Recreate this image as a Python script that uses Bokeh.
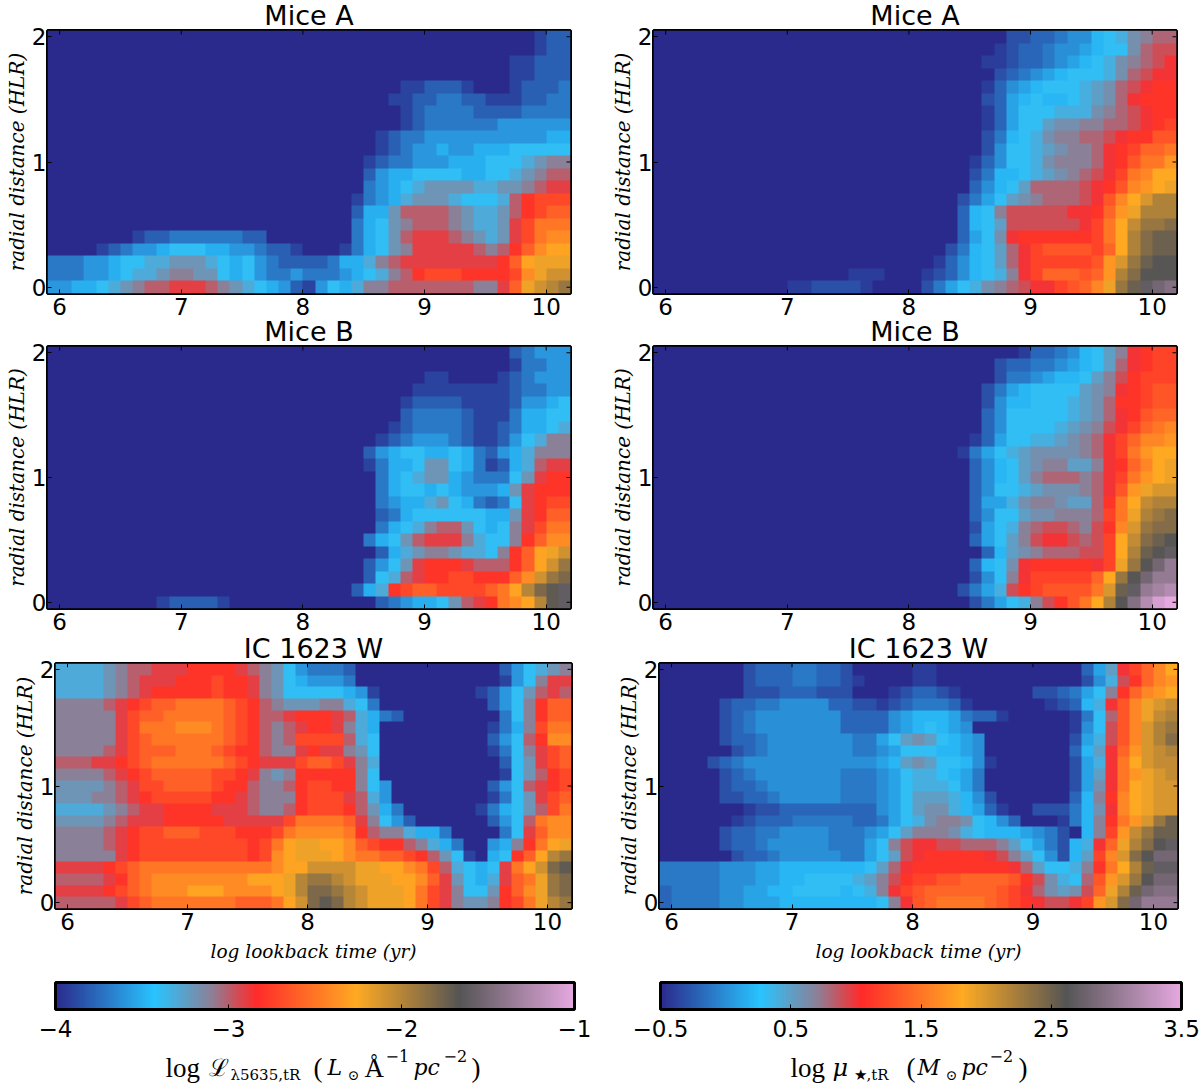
from bokeh.embed import file_html
from bokeh.resources import INLINE
from bokeh.plotting import figure
from bokeh.layouts import column, row
from bokeh.models import (Range1d, FixedTicker, LinearColorMapper, ColorBar, Label)
import numpy as np

AGE_TICKS = [6, 7, 8, 9, 10]
RADIUS_TICKS = [0, 1, 2]
LUM_TICKS = [-4, -3, -2, -1]
MASS_TICKS = [-0.5, 0.5, 1.5, 2.5, 3.5]
TITLES = ["Mice A", "Mice A", "Mice B", "Mice B", "IC 1623 W", "IC 1623 W"]
# cell values: tenths of a dex above the bottom of the colour scale; columns 0.1 dex in log age from 5.9; rows top (2.0 HLR) to bottom (0)
MICE_A_LUM = [
 [0]*40+[1,2,2],
 [0]*40+[1,2,2],
 [0]*38+[1,1,2,2,2],
 [0]*38+[1,1,2,2,2],
 [0]*29+[1,1,2,2,2,1]+[0,0,0]+[1,2,2,2,3],
 [0]*28+[1,1,2,2,3,3,2,2,1,1,1,2,2,3,3],
 [0]*29+[1,2,3,3,3,3,2,2,2,2,3,3,3,3],
 [0]*29+[1,2,3,3,3,3,3,3,4,4,4,4,4,4],
 [0]*27+[1,2,3,3,4,4,4,4,4,4,4,4,4,4,5,5],
 [0]*27+[1,2,3,4,4,5,4,4,5,5,5,6,6,6,6,6],
 [0]*26+[1,2,3,3,4,4,4,5,5,5,6,6,6,7,8,9,9],
 [0]*26+[2,4,5,5,6,6,6,6,5,5,6,6,7,8,9,10,10],
 [0]*26+[3,4,5,6,7,8,8,8,8,7,7,8,8,9,10,11,11],
 [0]*25+[1,3,4,5,7,8,8,8,7,6,6,6,7,10,12,13,13,13],
 [0]*25+[2,5,5,8,10,10,10,10,9,8,7,7,8,10,12,13,14,14],
 [0]*25+[3,5,6,8,9,10,10,10,9,8,7,7,8,11,13,15,15,15],
 [0]*7+[1,2,2,3,3,3,3,3,3,2,2]+[0]*7+[3,5,6,8,10,11,11,11,10,9,8,7,8,11,13,15,16,16],
 [0]*4+[1,2,3,4,4,5,6,6,6,5,5,4,4,3,2,2,1]+[0]*3+[1]+[3,5,6,8,9,11,11,11,11,11,10,9,10,12,14,16,17,17],
 [3,3,3,4,4,5,6,6,7,7,8,8,8,7,6,5,6,4,3,2,2,2,2,3,5,5,7,9,10,11,11,11,11,11,11,11,11,12,14,17,18,18,18],
 [3,3,3,4,4,5,6,7,7,8,9,9,8,8,6,5,6,4,3,3,4,3,3,3,4,5,6,7,9,10,12,13,13,13,12,12,12,12,13,16,18,19,19],
 [4,4,5,5,6,7,8,9,10,10,11,11,11,10,9,8,7,6,5,4,2,1,4,6,5,7,9,9,10,10,10,10,10,10,10,9,9,11,14,18,19,20,21],
]
MICE_A_MASS = [
 [0]*29+[2,2,3,3,4,5,5,7,8,9,11,12,13,13],
 [0]*28+[1,2,3,3,4,5,5,6,7,8,8,11,13,14,14],
 [0]*27+[1,1,2,3,3,4,5,6,7,8,9,11,12,13,14,15],
 [0]*28+[2,3,4,5,6,7,8,8,8,9,11,13,14,15,15],
 [0]*27+[1,3,5,6,7,8,8,8,9,10,11,13,14,15,16,16],
 [0]*27+[2,3,6,7,8,7,7,8,9,10,11,13,15,16,16,16],
 [0]*27+[1,3,6,8,8,8,9,9,9,11,12,13,14,15,16,16],
 [0]*27+[1,3,6,8,8,10,11,11,12,12,13,13,14,15,16,17],
 [0]*27+[2,4,7,8,9,11,12,12,13,13,14,15,16,16,18,18],
 [0]*27+[2,5,8,8,9,10,11,12,12,13,15,16,17,19,19,20],
 [0]*26+[1,3,5,8,8,9,11,12,12,12,13,15,16,18,20,20,22],
 [0]*26+[2,4,7,7,8,9,10,11,12,13,14,15,17,20,21,23,23],
 [0]*26+[3,5,7,8,10,13,13,13,13,14,15,16,18,21,22,23,24],
 [0]*25+[2,4,6,8,10,11,12,13,13,13,14,15,18,21,23,25,27,27],
 [0]*25+[3,7,8,12,14,14,14,14,14,15,15,16,19,22,24,27,27,27],
 [0]*25+[3,7,8,10,14,14,14,14,14,14,15,17,20,23,26,28,28,29],
 [0]*25+[3,6,8,11,15,16,16,16,16,16,16,17,20,23,27,29,30,30],
 [0]*24+[2,4,7,8,10,13,15,17,18,18,18,18,17,19,23,27,29,30,30],
 [0]*23+[1,3,5,7,8,10,13,15,17,17,17,17,17,18,22,25,28,30,31,31],
 [0]*16+[1,1,1]+[0]*3+[1,2,3,5,7,8,9,12,15,17,19,19,19,18,19,22,27,29,31,31,31],
 [0]*11+[1,1,2,2,2,2,1]+[0]*4+[2,4,6,8,9,11,12,13,14,15,15,17,18,19,21,24,28,30,32,33,34],
]
MICE_B_LUM = [
 [0]*38+[2,3,4,4,4],
 [0]*38+[1,3,3,4,4],
 [0]*31+[1,1]+[0]*4+[1,2,3,4,4,4],
 [0]*30+[1,1,1,1,1,1,1,1,2,3,3,4,4],
 [0]*29+[1,2,2,2,2,1,1,1,1,2,4,4,5,6],
 [0]*29+[2,3,3,3,3,2,1,1,1,3,5,5,6,6],
 [0]*28+[1,2,3,3,3,3,2,1,1,2,3,5,5,6,7],
 [0]*27+[1,2,3,4,4,4,3,2,1,1,2,4,6,7,9,9],
 [0]*26+[2,4,5,6,6,5,5,6,5,3,2,4,5,7,9,9,9],
 [0]*26+[1,3,5,5,6,8,8,6,5,3,1,2,5,7,10,11,11],
 [0]*27+[3,5,6,7,8,8,5,4,3,3,3,6,8,11,12,12],
 [0]*27+[3,5,6,6,5,6,5,4,4,4,5,8,11,12,12,12],
 [0]*27+[3,4,5,5,7,8,6,5,3,2,3,6,11,12,13,13],
 [0]*27+[2,3,5,6,6,6,6,6,6,5,5,8,11,12,14,14],
 [0]*27+[3,5,6,7,9,10,10,8,6,5,6,9,11,13,15,15],
 [0]*26+[3,5,6,8,10,11,11,11,9,7,6,6,9,12,14,16,16],
 [0]*27+[2,5,7,8,9,9,8,7,7,6,9,12,14,17,18,19],
 [0]*26+[2,4,6,8,11,12,12,12,11,10,10,10,12,14,17,19,21],
 [0]*26+[2,6,7,10,11,12,12,13,13,12,12,12,14,16,19,21,22],
 [0]*25+[2,5,7,12,13,14,14,13,13,13,13,14,15,17,20,22,23,24],
 [0]*9+[1,2,2,2,2,1]+[0]*12+[2,3,4,5,5,6,8,10,11,12,15,16,17,20,23,24],
]
MICE_B_MASS = [
 [0]*30+[1,3,3,4,5,7,8,10,12,15,16,17,17],
 [0]*28+[2,3,3,4,4,5,6,7,8,10,13,15,16,17,17],
 [0]*28+[2,4,4,5,6,7,7,8,10,12,14,16,17,17,17],
 [0]*27+[2,4,6,7,8,8,8,8,10,11,12,15,16,17,18,18],
 [0]*27+[2,5,7,7,8,8,8,9,10,11,13,16,16,17,18,18],
 [0]*27+[3,5,8,8,8,8,8,9,10,11,13,15,16,18,19,19],
 [0]*27+[3,5,8,8,8,8,9,10,11,12,14,15,17,19,20,21],
 [0]*26+[1,3,6,8,8,9,9,10,11,12,13,15,17,19,21,21,22],
 [0]*25+[1,4,6,8,9,10,11,11,11,11,12,13,15,17,20,22,23,23],
 [0]*26+[3,5,7,8,10,11,12,12,10,10,12,15,16,19,21,23,24],
 [0]*26+[3,5,7,8,10,12,13,13,13,12,13,15,17,20,22,23,24],
 [0]*26+[3,5,8,8,9,10,11,11,11,12,13,15,18,22,24,25,25],
 [0]*26+[3,6,6,9,11,12,12,11,10,10,13,16,20,23,26,27,27],
 [0]*26+[3,5,8,8,10,11,11,12,12,12,13,17,20,24,27,28,29],
 [0]*26+[2,6,8,9,12,13,14,14,13,12,14,16,21,25,28,29,29],
 [0]*26+[3,6,8,10,12,14,15,15,14,13,14,17,23,26,29,30,31],
 [0]*27+[3,7,10,11,12,13,13,13,14,14,17,23,27,30,31,32],
 [0]*26+[3,7,8,11,15,16,16,16,16,16,15,17,24,28,31,33,35],
 [0]*26+[2,5,8,12,15,17,17,17,17,17,19,23,28,31,33,35,35],
 [0]*25+[2,4,6,9,14,16,17,18,18,18,18,20,25,30,32,35,36,37],
 [0]*26+[2,4,6,8,9,12,14,16,18,20,23,27,31,34,37,39,40],
]
IC1623_LUM = [
 [7,7,7,7,8,9,10,10,11,11,11,12,12,12,12,11,10,9,8,6,4,3,3,3,2]+[0]*12+[2,4,6,7,8,9],
 [7,7,7,7,8,9,10,11,11,11,12,12,12,13,12,12,11,9,8,6,5,4,4,4,3]+[0]*12+[1,4,6,9,11,11],
 [7,7,7,7,8,9,10,11,12,12,12,12,12,13,12,12,11,9,8,6,6,6,6,6,5,4,1]+[0]*8+[1,2,4,6,8,10,11,10],
 [9,9,9,9,10,11,12,13,14,14,15,15,15,15,14,13,12,10,9,8,8,8,9,9,7,6,3]+[0]*9+[2,4,6,9,12,14,14],
 [9,9,9,9,9,11,13,14,14,15,15,15,15,15,14,13,12,10,10,11,12,12,12,11,10,7,5,3,2]+[0]*8+[3,6,9,12,14,14],
 [9,9,9,9,9,11,13,15,15,15,16,16,16,15,14,13,12,10,9,10,11,12,12,11,9,7,5]+[0]*9+[1,3,5,9,13,15,15],
 [9,9,9,9,9,11,13,14,15,15,15,15,15,15,14,13,12,10,9,10,13,13,13,13,10,7,6]+[0]*9+[2,4,6,10,12,16,16],
 [9,9,9,9,10,11,13,14,14,14,15,15,15,14,13,12,12,10,9,9,11,12,11,11,9,8,6]+[0]*9+[1,3,6,9,11,13,14],
 [10,10,10,11,11,12,13,14,15,15,15,15,15,15,14,13,12,11,11,11,13,14,14,13,11,9,7]+[0]*10+[2,6,8,11,13,14],
 [9,9,9,9,10,11,12,13,14,14,14,14,14,13,13,12,11,9,8,9,12,12,12,12,12,9,6]+[0]*10+[1,6,8,10,12,13],
 [8,8,8,8,9,10,11,13,13,14,14,14,14,13,12,12,10,9,9,10,12,13,13,12,12,9,6,4]+[0]*8+[2,4,6,10,11,12,13],
 [8,8,8,9,9,10,11,12,13,13,13,13,13,12,12,11,10,9,9,9,12,13,13,13,11,10,7,4]+[0]*8+[1,3,6,8,11,13,14],
 [7,7,7,7,8,9,10,11,11,12,12,12,12,11,11,11,10,9,9,10,12,13,13,13,12,10,8,5,3]+[0]*6+[1,3,5,6,8,10,13,15],
 [8,8,8,8,9,10,11,11,11,12,12,12,12,12,11,11,11,11,11,13,15,15,15,15,14,11,9,6,4,2]+[0]*6+[2,4,6,10,15,16,16],
 [9,9,9,9,10,11,12,13,13,14,14,14,13,13,13,12,12,12,13,15,16,16,16,16,15,12,10,9,9,7,5,5,3]+[0]*4+[3,6,11,14,16,16],
 [9,9,9,9,10,11,12,13,13,13,13,13,13,13,13,13,12,13,15,17,18,18,17,17,16,14,13,12,12,10,9,7,5,3,0,0,4,5,9,12,15,17,18],
 [9,9,9,9,9,11,12,13,13,13,13,13,13,13,13,13,12,13,16,17,18,18,18,17,16,15,15,14,14,13,12,10,8,6,1,0,5,6,12,14,17,20,21],
 [11,11,11,11,12,13,14,15,15,15,15,15,15,15,15,15,15,15,16,17,17,19,19,19,19,18,18,17,17,16,15,13,10,7,6,5,6,11,15,17,19,22,23],
 [10,10,10,10,11,12,14,15,16,16,16,16,16,16,16,16,17,17,17,18,20,21,21,20,19,18,18,18,17,17,16,14,11,8,6,5,7,11,14,15,18,21,22],
 [11,11,11,11,12,13,14,15,16,16,16,17,17,17,16,16,16,16,17,18,20,22,22,21,20,19,18,18,18,17,15,13,11,9,6,6,8,12,14,16,18,21,22],
 [10,10,10,10,10,11,13,14,15,15,15,15,15,15,15,14,14,14,15,17,19,22,23,22,20,19,18,18,18,17,15,13,11,9,8,8,9,12,13,15,18,20,21],
]
IC1623_MASS = [
 [0]*7+[2,3,3,3,4,4,3,3,2]+[0]*5+[1,1]+[0]*12+[3,6,10,15,17,19,21,23],
 [0]*7+[2,3,3,3,4,4,3,3,2,1]+[0]*4+[1,1]+[0]*12+[2,5,9,14,16,19,21,22],
 [0]*7+[2,2,2,3,3,3,2,2,2]+[0]*3+[1,2,3,3,2,1]+[0]*6+[2,2,3,4,6,8,12,16,19,21,22,23],
 [0]*5+[2,3,3,4,4,5,5,5,5,3,3,2,2,1,2,3,4,4,4,3,1]+[0]*6+[1,2,3,7,9,15,18,21,24,25,26],
 [0]*5+[2,3,4,5,5,5,5,5,5,5,3,3,3,3,5,6,7,7,7,6,4,3,3,1]+[0]*5+[1,4,8,13,18,21,24,26,27],
 [0]*5+[2,3,4,5,5,5,5,5,5,5,3,3,3,3,5,6,7,8,7,6,5]+[0]*8+[1,5,8,14,18,21,25,27,28],
 [0]*5+[2,3,3,4,5,5,5,5,5,5,5,4,4,6,8,10,11,10,8,7,6,5]+[0]*7+[2,6,9,14,18,21,25,27,29],
 [0]*6+[2,3,4,5,5,5,5,5,5,5,4,4,5,6,8,8,8,7,7,6,5]+[0]*7+[3,7,10,15,19,22,25,26,27],
 [0]*4+[2,3,4,5,5,5,5,5,5,5,5,5,5,5,6,7,10,11,10,8,8,7,5,1]+[0]*6+[2,6,9,15,20,23,25,26,26],
 [0]*5+[2,3,4,5,5,5,5,5,5,5,4,4,4,5,6,8,9,9,8,7,6,4]+[0]*7+[2,6,10,15,20,22,24,25,26],
 [0]*5+[2,3,3,4,5,5,5,5,5,5,4,4,4,5,6,8,9,9,9,8,6,4]+[0]*7+[2,6,11,15,20,23,24,25,25],
 [0]*5+[2,2,3,3,4,5,5,5,5,5,4,4,4,5,6,8,10,10,10,9,7,5,2]+[0]*6+[3,7,12,16,21,23,24,25,25],
 [0]*7+[1,2,2,3,3,3,3,3,3,3,3,5,6,8,10,11,11,9,7,6,3,1]+[0]*2+[2,2,2,4,7,11,15,21,23,24,25,25],
 [0]*6+[1,2,3,3,3,4,4,4,4,4,3,3,4,6,8,9,11,12,12,11,8,7,5,3]+[0,0,0,1]+[4,7,12,16,20,22,25,28,30],
 [0]*5+[2,3,3,4,4,5,5,5,5,4,4,4,5,6,8,10,12,12,12,11,9,8,7,7,7,6,5,4,2,0]+[7,12,17,22,26,28,30,30],
 [0]*5+[2,3,3,4,5,5,5,5,5,4,4,4,6,8,12,14,15,15,14,14,13,13,13,12,10,8,6,4,2,7,9,15,19,24,27,29,31,32],
 [0]*6+[2,3,3,4,5,5,5,5,5,4,4,6,8,10,14,15,16,16,16,16,16,15,14,12,10,8,5,2,7,10,17,21,25,29,31,33,33],
 [4,4,4,4,4,5,5,5,6,6,7,7,7,7,7,7,7,8,10,13,15,16,16,16,16,16,16,16,16,15,13,10,8,8,9,12,16,20,23,27,30,32,32],
 [4,4,4,4,4,5,5,5,6,6,7,7,8,8,8,8,9,10,12,14,16,17,17,18,18,19,19,19,19,18,16,14,11,9,8,13,18,22,25,28,31,33,33],
 [3,4,4,4,4,5,5,6,6,7,7,8,8,8,8,7,8,9,12,15,17,18,19,19,19,19,19,19,18,17,15,13,11,10,11,14,19,24,27,30,33,34,34],
 [3,4,4,4,4,5,5,6,6,6,7,7,7,7,7,7,7,7,8,12,15,18,19,20,20,20,20,19,18,17,16,15,14,14,15,17,22,25,29,33,35,35,35],
]

# colormap anchors
stops = [0, .19, .30, .385, .58, .78, 1]
cols = [(42,42,140),(40,196,255),(140,128,150),(255,42,42),(255,170,34),(85,85,85),(229,168,224)]
t = np.linspace(0, 1, 256)
PALETTE = ["#%02x%02x%02x" % tuple(int(round(np.interp(v, stops, [c[i] for c in cols]))) for i in range(3)) for v in t]

SERIF = "DejaVu Serif"

def fit(r):
    r = list(r)[:43]
    return r + [r[-1]] * (43 - len(r))

def panel(title, rows, vmin, left, width, height, bottom, mt, xlabel=None):
    m = np.array([fit(r) for r in rows], dtype=float)[::-1] * 0.1 + vmin
    mapper = LinearColorMapper(palette=PALETTE, low=vmin, high=vmin + (3 if vmin == -4 else 4))
    p = figure(frame_width=width, frame_height=height, min_border_left=left,
               min_border_right=600 - left - width, min_border_top=38, min_border_bottom=bottom,
               x_range=Range1d(5.9, 10.2), y_range=Range1d(-0.05, 2.05),
               output_backend="svg", toolbar_location=None, tools="",
               margin=(mt, 0, 0, 0), border_fill_color=None, background_fill_color=None)
    p.image(image=[m], x=5.9, y=-0.05, dw=4.3, dh=2.1, color_mapper=mapper)
    # mirrored inward ticks on the top and right edges
    p.segment(x0=AGE_TICKS, y0=[2.05]*5, x1=AGE_TICKS, y1=[2.018]*5, line_color="black", line_width=1)
    p.segment(x0=[10.2]*3, y0=RADIUS_TICKS, x1=[10.167]*3, y1=RADIUS_TICKS, line_color="black", line_width=1)
    p.grid.visible = False
    p.outline_line_color = "black"
    p.outline_line_width = 3
    p.title.text = title
    p.title.align = "center"
    p.title.text_font = "DejaVu Sans"
    p.title.text_font_style = "normal"
    p.title.text_font_size = "27px"
    p.title.text_color = "black"
    p.title.standoff = 0
    for ax, tk in ((p.xaxis[0], AGE_TICKS), (p.yaxis[0], RADIUS_TICKS)):
        ax.ticker = FixedTicker(ticks=tk)
        ax.axis_line_color = None
        ax.major_tick_in = 4
        ax.major_tick_out = 0
        ax.minor_tick_in = 0
        ax.minor_tick_out = 0
        ax.major_tick_line_color = "black"
        ax.major_label_text_font = "DejaVu Sans"
        ax.major_label_text_font_size = "23px"
        ax.major_label_text_color = "black"
    p.xaxis[0].major_label_standoff = 4
    p.yaxis[0].major_label_standoff = 1
    p.yaxis[0].major_label_orientation = "horizontal"
    p.yaxis[0].axis_label = "radial distance (HLR)"
    p.yaxis[0].axis_label_standoff = 0
    p.yaxis[0].axis_label_text_font_size = "20px"
    for ax in (p.yaxis[0],) + ((p.xaxis[0],) if xlabel else ()):
        ax.axis_label_text_font = SERIF
        ax.axis_label_text_font_style = "italic"
        ax.axis_label_text_color = "black"
    if xlabel:
        p.xaxis[0].axis_label = xlabel
        p.xaxis[0].axis_label_standoff = 8
        p.xaxis[0].axis_label_text_font_size = "18.5px"
    return p

def bar(vmin, vmax, ticks, left, width, pieces, origin):
    mapper = LinearColorMapper(palette=PALETTE, low=vmin, high=vmax)
    p = figure(frame_width=width, frame_height=105, min_border_left=left, min_border_right=600 - left - width,
               min_border_top=7, min_border_bottom=0, x_range=Range1d(0, width), y_range=Range1d(105, 0),
               output_backend="svg", toolbar_location=None, tools="", x_axis_type=None, y_axis_type=None,
               margin=(-10, 0, -8, 0), border_fill_color=None, background_fill_color=None)
    p.outline_line_color = None
    p.grid.visible = False
    over = {k: (str(k).replace("-", "\u2212")) for k in ticks}
    cb = ColorBar(color_mapper=mapper, location="top_left", orientation="horizontal", width=width, height=27,
                  margin=0, padding=0, ticker=FixedTicker(ticks=ticks), major_label_overrides=over,
                  major_label_text_font="DejaVu Sans", major_label_text_font_size="23px", major_label_text_color="black",
                  major_tick_in=5, major_tick_out=0, major_tick_line_color="black", minor_tick_line_color=None,
                  bar_line_color="black", bar_line_width=3, border_line_color=None, background_fill_color=None,
                  label_standoff=10)
    p.add_layout(cb)
    for txt, x, y, size, style in pieces:
        p.add_layout(Label(x=x - left - origin, y=y, text=txt, text_font=SERIF if style != "r" else "Liberation Serif",
                           text_font_size=f"{size}px", text_font_style="italic" if style == "i" else "normal",
                           text_color="black", text_baseline="alphabetic"))
    return p

LEFT_LABEL = [("log", 165, 85, 27, "r"), ("\u2112", 208, 85, 24, "n"), ("\u03bb5635,tR", 230, 92, 15, "n"),
              ("(", 313, 85, 27, "r"), ("L", 327, 85, 22, "i"), ("\u2299", 347, 92, 14, "n"),
              ("\u00c5", 364, 85, 27, "r"), ("\u22121", 385, 73, 16, "n"), ("pc", 413, 85, 22, "i"),
              ("\u22122", 443, 73, 16, "n"), (")", 471, 85, 27, "r")]
RIGHT_LABEL = [("log", 790, 85, 27, "r"), ("\u03bc", 832, 85, 24, "i"), ("\u2605,tR", 853, 92, 15, "n"),
               ("(", 906, 85, 27, "r"), ("M", 917, 85, 22, "i"), ("\u2299", 945, 92, 14, "n"),
               ("pc", 961, 85, 22, "i"), ("\u22122", 989, 73, 16, "n"), (")", 1018, 85, 27, "r")]

XL = "log lookback time (yr)"
f1 = panel(TITLES[0], MICE_A_LUM, -4, 47, 523, 263, 40, -8)
f2 = panel(TITLES[1], MICE_A_MASS, -0.5, 53, 523, 263, 40, -8)
f3 = panel(TITLES[2], MICE_B_LUM, -4, 47, 523, 262, 40, -25)
f4 = panel(TITLES[3], MICE_B_MASS, -0.5, 53, 523, 262, 40, -25)
f5 = panel(TITLES[4], IC1623_LUM, -4, 55, 516, 245, 77, -23, XL)
f6 = panel(TITLES[5], IC1623_MASS, -0.5, 59, 518, 245, 77, -23, XL)
c1 = bar(-4, -1, LUM_TICKS, 55, 519, LEFT_LABEL, 0)
c2 = bar(-0.5, 3.5, MASS_TICKS, 60, 521, RIGHT_LABEL, 600)

page = column(row(f1, f2, spacing=0), row(f3, f4, spacing=0), row(f5, f6, spacing=0), row(c1, c2, spacing=0), spacing=0)
open("out.html", "w").write(file_html(page, INLINE))
